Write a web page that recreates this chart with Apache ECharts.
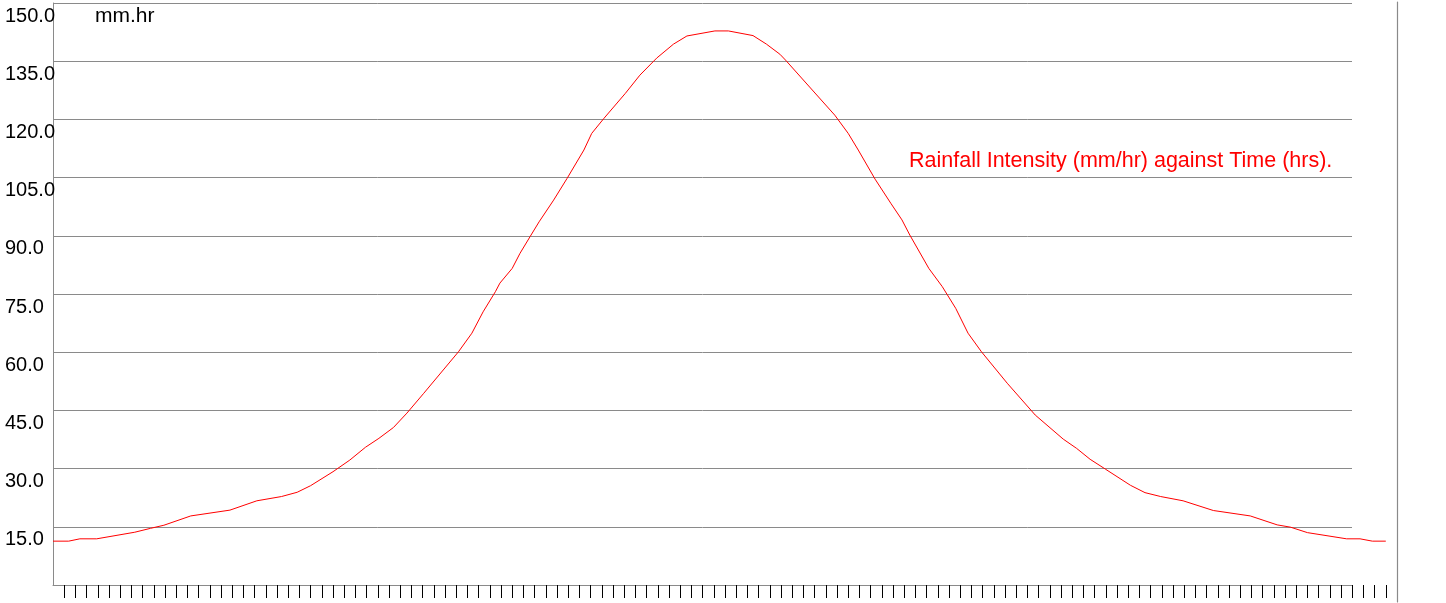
<!DOCTYPE html>
<html>
<head>
<meta charset="utf-8">
<script src="https://cdn.jsdelivr.net/npm/echarts@6/dist/echarts.min.js"></script>
<style>html,body{margin:0;padding:0;background:#fff;}#c{width:1446px;height:603px;}</style>
</head>
<body>
<div id="c"></div>
<script>
// Time (hrs) of each vertex of the curve
const times = [0, 1.4, 2.4, 3.9, 7.3, 8.7, 9.9, 12.3, 15.8, 18.2, 20.4, 21.8, 23.0, 25.0, 26.5, 27.9, 29.1, 30.4, 31.6, 33.1, 36.2, 37.4, 38.4, 39.5, 39.9, 41.0, 41.7, 42.6, 43.4, 44.7, 45.9, 47.4, 48.1, 49.2, 51.1, 52.4, 53.9, 55.4, 56.6, 59.1, 60.3, 62.5, 63.7, 64.9, 65.4, 69.8, 71.0, 71.9, 73.4, 74.8, 75.8, 76.5, 78.2, 79.4, 80.6, 81.7, 82.9, 85.2, 87.7, 90.2, 91.4, 92.6, 94.0, 96.2, 97.5, 98.9, 100.9, 103.6, 106.9, 109.3, 110.5, 112.0, 115.5, 116.7, 117.8, 119.0];
// Rainfall intensity (mm/hr)
const intensity = [11.3, 11.3, 11.9, 11.9, 13.6, 14.6, 15.4, 17.8, 19.3, 21.7, 22.8, 23.9, 25.6, 29.2, 32.2, 35.5, 37.8, 40.6, 44.3, 49.4, 60.1, 64.9, 70.4, 75.6, 77.8, 81.6, 85.5, 89.8, 93.6, 99.2, 104.8, 112.1, 116.4, 120.3, 126.7, 131.4, 135.8, 139.4, 141.5, 142.8, 142.8, 141.6, 139.4, 136.8, 135.3, 121.1, 116.4, 112.1, 104.6, 98.4, 94.1, 90.2, 81.6, 76.9, 71.3, 64.9, 60.1, 52.0, 43.8, 37.6, 35.2, 32.4, 29.8, 25.7, 23.8, 22.8, 21.7, 19.2, 17.8, 15.5, 14.9, 13.5, 11.9, 11.9, 11.3, 11.3];
// Tick positions along the time axis
const xTicks = [];
for (let i = 1; i <= 119; i++) xTicks.push(i);
const yMin = 0, yMax = 150, yStep = 15;
const unitLabel = 'mm.hr';
const chartTitle = 'Rainfall Intensity (mm/hr) against Time (hrs).';

const FONT = 'Liberation Sans, Arial, Helvetica, sans-serif';
const GRAY = '#8a8a8a';
const chart = echarts.init(document.getElementById('c'), null, {renderer: 'canvas'});
chart.setOption({
  animation: false,
  backgroundColor: '#fff',
  title: [
    {text: unitLabel, left: 95, top: 6, padding: 0,
     textStyle: {fontFamily: FONT, fontSize: 21, fontWeight: 'normal', color: '#000'}},
    {text: chartTitle, left: 909, top: 150, padding: 0,
     textStyle: {fontFamily: FONT, fontSize: 21.5, fontWeight: 'normal', color: '#ff0000'}}
  ],
  grid: [
    {left: 53, right: 94, top: 3, bottom: 18},
    {left: 53, right: 49, top: 3, bottom: 18},
    {left: 53, right: 49, top: 2, bottom: 1}
  ],
  xAxis: [
    {gridIndex: 0, type: 'value', min: 0, max: 116,
     axisLine: {show: true, lineStyle: {color: GRAY, width: 1}},
     axisTick: {show: false}, axisLabel: {show: false}, splitLine: {show: false}},
    {gridIndex: 1, type: 'value', min: 0, max: 120, interval: 1,
     axisLine: {show: false},
     axisTick: {show: true, customValues: xTicks, length: 13, lineStyle: {color: '#000', width: 1}},
     axisLabel: {show: false}, splitLine: {show: false}},
    {gridIndex: 2, type: 'value', min: 0, max: 120, show: false}
  ],
  yAxis: [
    {gridIndex: 0, type: 'value', min: yMin, max: yMax, interval: yStep,
     axisLine: {show: true, lineStyle: {color: GRAY, width: 1}},
     axisTick: {show: false},
     axisLabel: {show: true, align: 'left', margin: 48, verticalAlign: 'top', lineHeight: 26,
       fontFamily: FONT, fontSize: 20, color: '#000',
       formatter: v => v === 0 ? '' : v.toFixed(1)},
     splitLine: {show: true, lineStyle: {color: GRAY, width: 1}}},
    {gridIndex: 1, type: 'value', min: yMin, max: yMax, show: false},
    {gridIndex: 2, type: 'value', min: 0, max: 1, position: 'right',
     axisLine: {show: true, onZero: false, lineStyle: {color: GRAY, width: 1.2}},
     axisTick: {show: false}, axisLabel: {show: false}, splitLine: {show: false}}
  ],
  series: [{
    type: 'line', xAxisIndex: 1, yAxisIndex: 1,
    data: times.map((t, i) => [t, intensity[i]]),
    showSymbol: false, smooth: false,
    lineStyle: {color: '#ff0000', width: 1}
  }]
});
</script>
</body>
</html>
